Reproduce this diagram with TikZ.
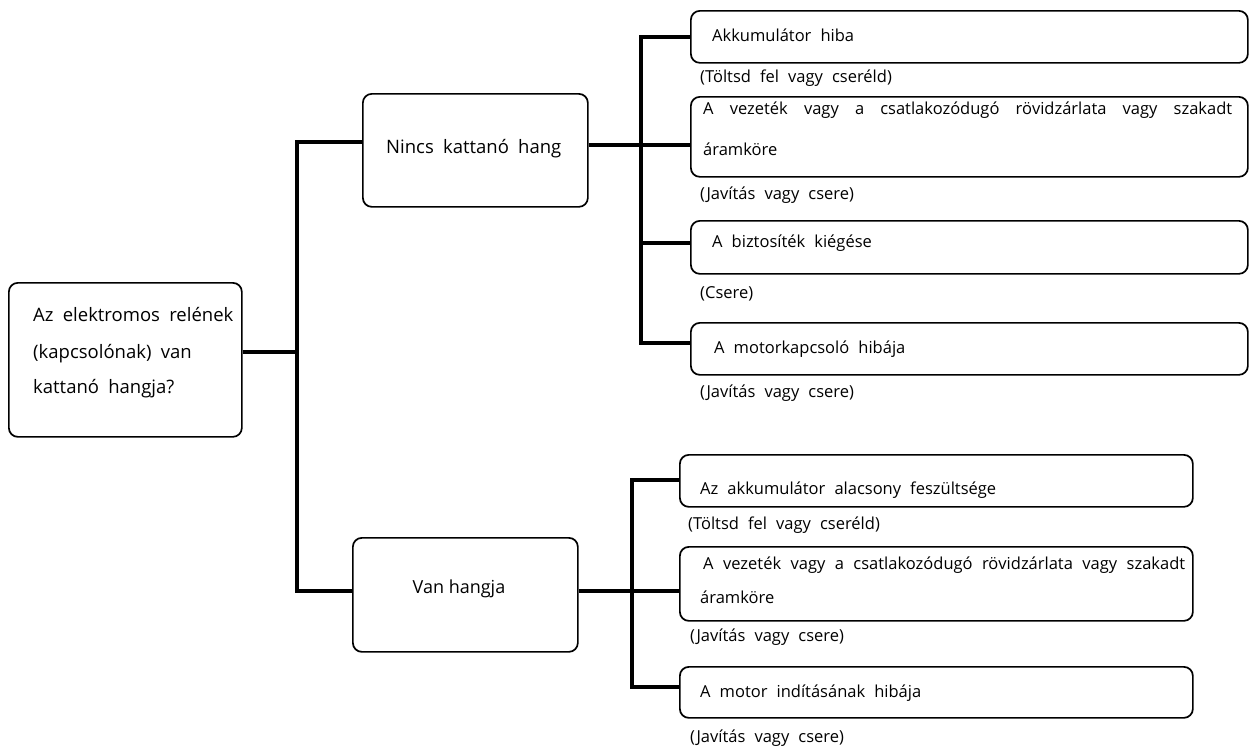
\documentclass[tikz,border=0pt]{standalone}
\usepackage{fontspec}
\setmainfont{Open Sans}
\newcommand{\smfnt}{\fontsize{16.5}{20}\selectfont\spaceskip=0.55em plus 0.5em minus 0.1em\relax}
\newcommand{\bgfnt}{\fontsize{18.5}{22}\selectfont\spaceskip=0.5em plus 0.3em minus 0.1em\relax}
\newcommand{\vnfnt}{\fontsize{18}{22}\selectfont}
\tikzset{
  box/.style={draw=black, line width=1.7pt, rounded corners=9pt, anchor=north west, inner sep=0pt},
  conn/.style={line width=4.8pt, line join=miter, line cap=butt},
  txt/.style={anchor=base west, inner sep=0pt, font=\smfnt},
  btxt/.style={anchor=base west, inner sep=0pt, font=\bgfnt},
  ctxt/.style={anchor=base, inner sep=0pt, font=\vnfnt},
}
\begin{document}
\begin{tikzpicture}[x=1pt,y=-1pt]
\useasboundingbox[fill=white] (0,0) rectangle (1249,745);
% boxes
\node[box, minimum width=233pt, minimum height=154pt] (root) at (8,282) {};
\node[box, minimum width=225pt, minimum height=113pt] (nincs) at (362,93) {};
\node[box, minimum width=225pt, minimum height=114pt] (van) at (352,537) {};
\node[box, minimum width=557pt, minimum height=52pt] (c1) at (690,10) {};
\node[box, minimum width=557pt, minimum height=80pt] (c2) at (690,96) {};
\node[box, minimum width=557pt, minimum height=53pt] (c3) at (690,220) {};
\node[box, minimum width=557pt, minimum height=52pt] (c4) at (690,322) {};
\node[box, minimum width=513pt, minimum height=52pt] (d1) at (679,454) {};
\node[box, minimum width=513pt, minimum height=74pt] (d2) at (679,546) {};
\node[box, minimum width=513pt, minimum height=51pt] (d3) at (679,666) {};
% texts
\node[btxt] (r1) at (33,321) {Az elektromos relének};
\node[btxt] (r2) at (33,358) {(kapcsolónak) van};
\node[btxt] (r3) at (33,393) {kattanó hangja?};
\node[btxt] (nt) at (386,153) {Nincs kattanó hang};
\node[ctxt] (vt) at (459,593) {Van hangja};
\node[txt] (c1t) at (712,41) {Akkumulátor hiba};
\node[txt] (n1) at (700,82) {(Töltsd fel vagy cseréld)};
\node[txt] (c2a) at (703,114) {\makebox[529pt][s]{A vezeték vagy a csatlakozódugó rövidzárlata vagy szakadt}};
\node[txt] (c2b) at (703,155) {áramköre};
\node[txt] (n2) at (700,199) {(Javítás vagy csere)};
\node[txt] (c3t) at (712,247) {A biztosíték kiégése};
\node[txt] (n3) at (700,298) {(Csere)};
\node[txt] (c4t) at (714,353) {A motorkapcsoló hibája};
\node[txt] (n4) at (700,397) {(Javítás vagy csere)};
\node[txt] (d1t) at (700,494) {Az akkumulátor alacsony feszültsége};
\node[txt] (n5) at (688,529) {(Töltsd fel vagy cseréld)};
\node[txt] (d2a) at (703,569) {\makebox[482pt][s]{A vezeték vagy a csatlakozódugó rövidzárlata vagy szakadt}};
\node[txt] (d2b) at (700,603) {áramköre};
\node[txt] (n6) at (690,641) {(Javítás vagy csere)};
\node[txt] (d3t) at (700,697) {A motor indításának hibája};
\node[txt] (n7) at (690,742) {(Javítás vagy csere)};
% junction coordinates
\coordinate (R) at (297,352);
\coordinate (T1) at (297,142);
\coordinate (T2) at (297,591);
\coordinate (B0) at (641,37);
\coordinate (B1) at (641,145);
\coordinate (B2) at (641,243);
\coordinate (B3) at (641,343);
\coordinate (V0) at (632,480);
\coordinate (V1) at (632,591);
\coordinate (V3) at (632,687);
% connectors
\draw[conn] (root.east |- R) -- (R);
\draw[conn] (nincs.west |- T1) -- (T1) -- (T2) -- (van.west |- T2);
\draw[conn] (nincs.east |- B1) -- (c2.west |- B1);
\draw[conn] (c1.west |- B0) -- (B0) -- (B3) -- (c4.west |- B3);
\draw[conn] (B2) -- (c3.west |- B2);
\draw[conn] (van.east |- V1) -- (d2.west |- V1);
\draw[conn] (d1.west |- V0) -- (V0) -- (V3) -- (d3.west |- V3);
\end{tikzpicture}
\end{document}
